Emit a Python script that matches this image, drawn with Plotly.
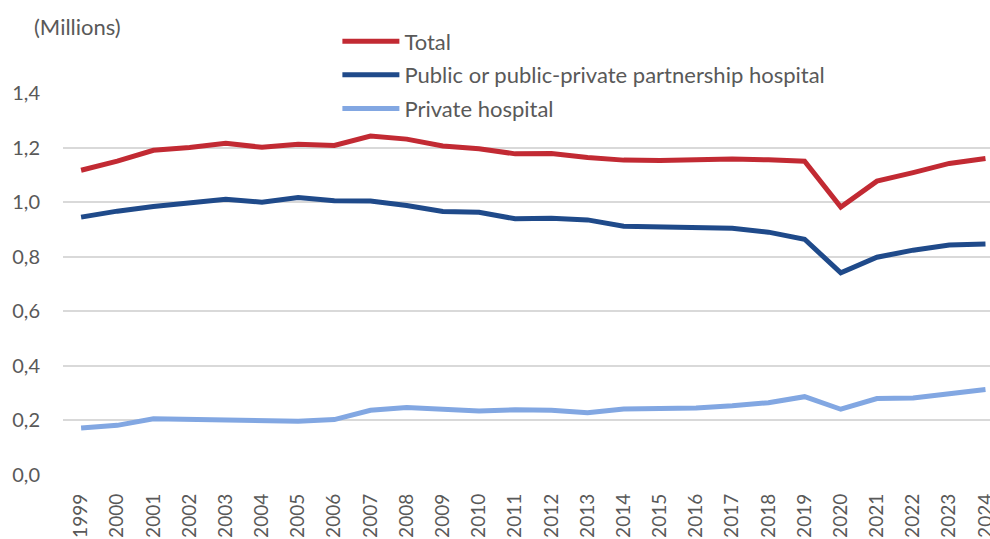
import plotly.graph_objects as go

years = list(range(1999, 2025))
total = [1.117, 1.150, 1.190, 1.200, 1.216, 1.201, 1.212, 1.208, 1.242, 1.231, 1.206, 1.196, 1.177, 1.178,
         1.164, 1.154, 1.153, 1.155, 1.158, 1.155, 1.150, 0.982, 1.077, 1.108, 1.142, 1.160]
public = [0.945, 0.967, 0.984, 0.997, 1.011, 1.000, 1.017, 1.005, 1.004, 0.988, 0.966, 0.963, 0.939, 0.941,
          0.935, 0.912, 0.910, 0.909, 0.904, 0.890, 0.864, 0.741, 0.798, 0.824, 0.843, 0.847]
private = [0.172, 0.182, 0.206, 0.204, 0.205, 0.201, 0.197, 0.203, 0.237, 0.247, 0.241, 0.235, 0.239, 0.237,
           0.228, 0.242, 0.244, 0.246, 0.254, 0.265, 0.287, 0.241, 0.280, 0.282, 0.298, 0.313]
y_ticks = [0.0, 0.2, 0.4, 0.6, 0.8, 1.0, 1.2, 1.4]

FONT = "Lato"
GRAY = "#595959"

series = [
    ("Total", total, "#C22A33"),
    ("Public or public-private partnership hospital", public, "#1F4A8A"),
    ("Private hospital", private, "#82A7E2"),
]

fig = go.Figure()
for i, (name, vals, color) in enumerate(series):
    fig.add_trace(go.Scatter(
        x=years, y=vals, mode="lines", name=name,
        line=dict(color=color, width=5),
        legendgroup=f"g{i}",
    ))

fig.update_layout(
    width=990, height=539,
    margin=dict(l=63, r=0, t=93, b=64, autoexpand=False),
    paper_bgcolor="white", plot_bgcolor="white",
    separators=",.",
    font=dict(family=FONT, color=GRAY, size=17),
    showlegend=True,
    legend=dict(
        x=0.296, y=1.19, xanchor="left", yanchor="top",
        font=dict(family=FONT, size=22, color=GRAY),
        traceorder="grouped", tracegroupgap=2, itemwidth=57,
        bgcolor="rgba(0,0,0,0)",
    ),
    xaxis=dict(
        range=[1998.5, 2024.125],
        tickmode="array", tickvals=years, ticktext=[str(y) for y in years],
        tickangle=-90, showgrid=False, zeroline=False, showline=False,
        ticks="", tickfont=dict(family=FONT, size=19, color=GRAY),
        ticklabelstandoff=14, ticklabeloverflow="allow", automargin=False,
    ),
    yaxis=dict(
        range=[0, 1.4], tickmode="array", tickvals=y_ticks,
        tickformat=".1f", showgrid=True, gridcolor="#D9D9D9", gridwidth=1.5,
        zeroline=False, showline=False, ticks="",
        tickfont=dict(family=FONT, size=20, color=GRAY),
        ticklabelstandoff=22, automargin=False,
    ),
    annotations=[dict(
        text="(Millions)", xref="paper", yref="paper",
        x=-0.033, y=1.175, xanchor="left", yanchor="middle",
        showarrow=False, font=dict(family=FONT, size=22, color=GRAY),
    )],
)

fig.write_html("out.html")
